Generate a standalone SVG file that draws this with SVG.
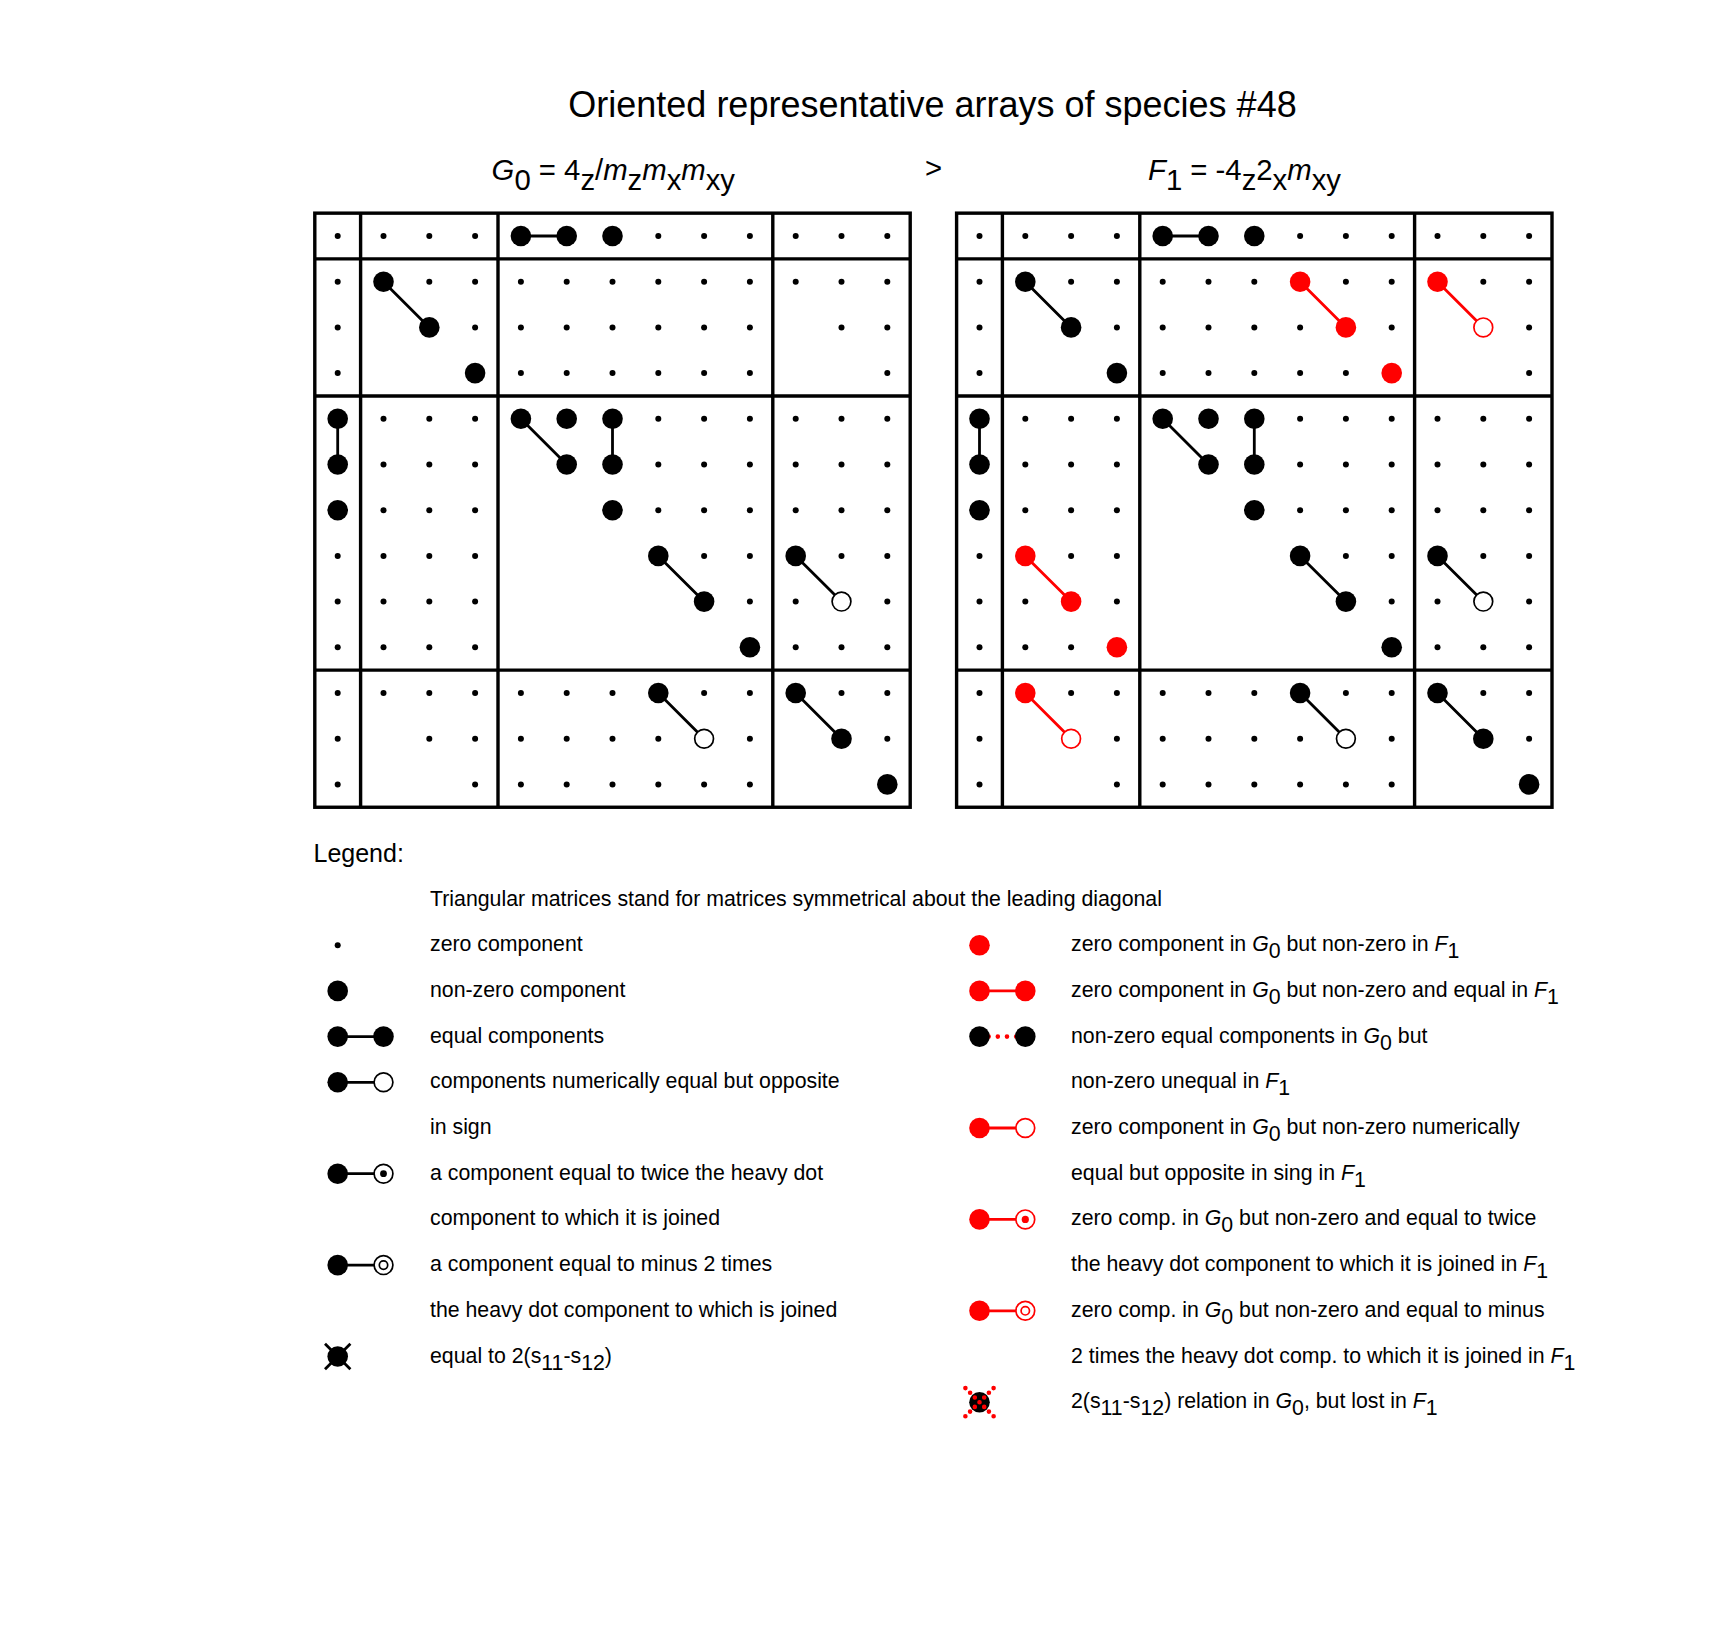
<svg xmlns="http://www.w3.org/2000/svg" xmlns:xlink="http://www.w3.org/1999/xlink" width="1715" height="1626" viewBox="0 0 1715 1626">
<style>
text{font-family:"Liberation Sans",Arial,"DejaVu Sans",sans-serif;fill:#000}
.ttl{font-size:36px}
.hd{font-size:29.3px}
.lg{font-size:25px}
.tx{font-size:21.3px}
.i{font-style:italic}
.fr{fill:none;stroke:#000;stroke-width:3.4}
.cn{fill:none;stroke:#000;stroke-width:2.8}
.cr{fill:none;stroke:#f00;stroke-width:2.8}
.z{fill:#000}
.b{fill:#000}
.rb{fill:#f00}
.o{fill:#fff;stroke:#000;stroke-width:1.7}
.ro{fill:#fff;stroke:#f00;stroke-width:1.7}
.rdot{fill:none;stroke:#f00;stroke-width:4.6;stroke-linecap:round}
</style>
<rect width="1715" height="1626" fill="#fff"/>

<g id="title"><text class="ttl" x="932.5" y="117" text-anchor="middle">Oriented representative arrays of species #48</text></g>

<g id="label-G0"><text class="hd" x="491.6" y="180"><tspan class="i">G</tspan><tspan dy="10">0</tspan><tspan dy="-10"> = 4</tspan><tspan dy="10">z</tspan><tspan dy="-10">/</tspan><tspan class="i">m</tspan><tspan dy="10">z</tspan><tspan dy="-10" class="i">m</tspan><tspan dy="10">x</tspan><tspan dy="-10" class="i">m</tspan><tspan dy="10">xy</tspan></text></g>
<g id="gt"><text class="hd" x="925" y="178">&gt;</text></g>
<g id="label-F1"><text class="hd" x="1148" y="180"><tspan class="i">F</tspan><tspan dy="10">1</tspan><tspan dy="-10"> = -4</tspan><tspan dy="10">z</tspan><tspan dy="-10">2</tspan><tspan dy="10">x</tspan><tspan dy="-10" class="i">m</tspan><tspan dy="10">xy</tspan></text></g>

<!-- Left array G0 -->
<g id="array-G0" transform="translate(337.7,236)">
<g id="G0-frame">
<rect class="fr" x="-22.9" y="-22.85" width="595.4" height="594.1"/>
<path class="fr" d="M22.9,-22.85V571.25M160.3,-22.85V571.25M435.1,-22.85V571.25M-22.9,22.85H572.5M-22.9,159.95H572.5M-22.9,434.15H572.5"/>
</g>
<g id="G0-connectors">
<path class="cn" d="M183.2,0H229M45.8,45.7L91.6,91.4M0,182.8V228.5M183.2,182.8L229,228.5M274.8,182.8V228.5M320.6,319.9L366.4,365.6M458,319.9L503.8,365.6M320.6,457L366.4,502.7M458,457L503.8,502.7"/>
</g>
<g id="G0-zero" class="z">
<g transform="translate(0,0)"><circle cx="0" r="3"/><circle cx="45.8" r="3"/><circle cx="91.6" r="3"/><circle cx="137.4" r="3"/><circle cx="320.6" r="3"/><circle cx="366.4" r="3"/><circle cx="412.2" r="3"/><circle cx="458" r="3"/><circle cx="503.8" r="3"/><circle cx="549.6" r="3"/></g>
<g transform="translate(0,45.7)"><circle cx="0" r="3"/><circle cx="91.6" r="3"/><circle cx="137.4" r="3"/><circle cx="183.2" r="3"/><circle cx="229" r="3"/><circle cx="274.8" r="3"/><circle cx="320.6" r="3"/><circle cx="366.4" r="3"/><circle cx="412.2" r="3"/><circle cx="458" r="3"/><circle cx="503.8" r="3"/><circle cx="549.6" r="3"/></g>
<g transform="translate(0,91.4)"><circle cx="0" r="3"/><circle cx="137.4" r="3"/><circle cx="183.2" r="3"/><circle cx="229" r="3"/><circle cx="274.8" r="3"/><circle cx="320.6" r="3"/><circle cx="366.4" r="3"/><circle cx="412.2" r="3"/><circle cx="503.8" r="3"/><circle cx="549.6" r="3"/></g>
<g transform="translate(0,137.1)"><circle cx="0" r="3"/><circle cx="183.2" r="3"/><circle cx="229" r="3"/><circle cx="274.8" r="3"/><circle cx="320.6" r="3"/><circle cx="366.4" r="3"/><circle cx="412.2" r="3"/><circle cx="549.6" r="3"/></g>
<g transform="translate(0,182.8)"><circle cx="45.8" r="3"/><circle cx="91.6" r="3"/><circle cx="137.4" r="3"/><circle cx="320.6" r="3"/><circle cx="366.4" r="3"/><circle cx="412.2" r="3"/><circle cx="458" r="3"/><circle cx="503.8" r="3"/><circle cx="549.6" r="3"/></g>
<g transform="translate(0,228.5)"><circle cx="45.8" r="3"/><circle cx="91.6" r="3"/><circle cx="137.4" r="3"/><circle cx="320.6" r="3"/><circle cx="366.4" r="3"/><circle cx="412.2" r="3"/><circle cx="458" r="3"/><circle cx="503.8" r="3"/><circle cx="549.6" r="3"/></g>
<g transform="translate(0,274.2)"><circle cx="45.8" r="3"/><circle cx="91.6" r="3"/><circle cx="137.4" r="3"/><circle cx="320.6" r="3"/><circle cx="366.4" r="3"/><circle cx="412.2" r="3"/><circle cx="458" r="3"/><circle cx="503.8" r="3"/><circle cx="549.6" r="3"/></g>
<g transform="translate(0,319.9)"><circle cx="0" r="3"/><circle cx="45.8" r="3"/><circle cx="91.6" r="3"/><circle cx="137.4" r="3"/><circle cx="366.4" r="3"/><circle cx="412.2" r="3"/><circle cx="503.8" r="3"/><circle cx="549.6" r="3"/></g>
<g transform="translate(0,365.6)"><circle cx="0" r="3"/><circle cx="45.8" r="3"/><circle cx="91.6" r="3"/><circle cx="137.4" r="3"/><circle cx="412.2" r="3"/><circle cx="458" r="3"/><circle cx="549.6" r="3"/></g>
<g transform="translate(0,411.3)"><circle cx="0" r="3"/><circle cx="45.8" r="3"/><circle cx="91.6" r="3"/><circle cx="137.4" r="3"/><circle cx="458" r="3"/><circle cx="503.8" r="3"/><circle cx="549.6" r="3"/></g>
<g transform="translate(0,457)"><circle cx="0" r="3"/><circle cx="45.8" r="3"/><circle cx="91.6" r="3"/><circle cx="137.4" r="3"/><circle cx="183.2" r="3"/><circle cx="229" r="3"/><circle cx="274.8" r="3"/><circle cx="366.4" r="3"/><circle cx="412.2" r="3"/><circle cx="503.8" r="3"/><circle cx="549.6" r="3"/></g>
<g transform="translate(0,502.7)"><circle cx="0" r="3"/><circle cx="91.6" r="3"/><circle cx="137.4" r="3"/><circle cx="183.2" r="3"/><circle cx="229" r="3"/><circle cx="274.8" r="3"/><circle cx="320.6" r="3"/><circle cx="412.2" r="3"/><circle cx="549.6" r="3"/></g>
<g transform="translate(0,548.4)"><circle cx="0" r="3"/><circle cx="137.4" r="3"/><circle cx="183.2" r="3"/><circle cx="229" r="3"/><circle cx="274.8" r="3"/><circle cx="320.6" r="3"/><circle cx="366.4" r="3"/><circle cx="412.2" r="3"/></g>
</g>
<g id="G0-nonzero" class="b">
<circle cx="183.2" cy="0" r="10.3"/><circle cx="229" cy="0" r="10.3"/><circle cx="274.8" cy="0" r="10.3"/>
<circle cx="45.8" cy="45.7" r="10.3"/><circle cx="91.6" cy="91.4" r="10.3"/><circle cx="137.4" cy="137.1" r="10.3"/>
<circle cx="0" cy="182.8" r="10.3"/><circle cx="0" cy="228.5" r="10.3"/><circle cx="0" cy="274.2" r="10.3"/>
<circle cx="183.2" cy="182.8" r="10.3"/><circle cx="229" cy="182.8" r="10.3"/><circle cx="274.8" cy="182.8" r="10.3"/>
<circle cx="229" cy="228.5" r="10.3"/><circle cx="274.8" cy="228.5" r="10.3"/><circle cx="274.8" cy="274.2" r="10.3"/>
<circle cx="320.6" cy="319.9" r="10.3"/><circle cx="366.4" cy="365.6" r="10.3"/><circle cx="412.2" cy="411.3" r="10.3"/>
<circle cx="458" cy="319.9" r="10.3"/>
<circle cx="320.6" cy="457" r="10.3"/><circle cx="458" cy="457" r="10.3"/><circle cx="503.8" cy="502.7" r="10.3"/><circle cx="549.6" cy="548.4" r="10.3"/>
</g>
<g id="G0-opposite">
<circle class="o" cx="503.8" cy="365.6" r="9.4"/><circle class="o" cx="366.4" cy="502.7" r="9.4"/>
</g>
</g>

<!-- Right array F1 -->
<g id="array-F1" transform="translate(979.5,236)">
<g id="F1-frame">
<rect class="fr" x="-22.9" y="-22.85" width="595.4" height="594.1"/>
<path class="fr" d="M22.9,-22.85V571.25M160.3,-22.85V571.25M435.1,-22.85V571.25M-22.9,22.85H572.5M-22.9,159.95H572.5M-22.9,434.15H572.5"/>
</g>
<g id="F1-connectors">
<path class="cn" d="M183.2,0H229M45.8,45.7L91.6,91.4M0,182.8V228.5M183.2,182.8L229,228.5M274.8,182.8V228.5M320.6,319.9L366.4,365.6M458,319.9L503.8,365.6M320.6,457L366.4,502.7M458,457L503.8,502.7"/>
<path class="cr" d="M320.6,45.7L366.4,91.4M458,45.7L503.8,91.4M45.8,319.9L91.6,365.6M45.8,457L91.6,502.7"/>
</g>
<g id="F1-zero" class="z">
<g transform="translate(0,0)"><circle cx="0" r="3"/><circle cx="45.8" r="3"/><circle cx="91.6" r="3"/><circle cx="137.4" r="3"/><circle cx="320.6" r="3"/><circle cx="366.4" r="3"/><circle cx="412.2" r="3"/><circle cx="458" r="3"/><circle cx="503.8" r="3"/><circle cx="549.6" r="3"/></g>
<g transform="translate(0,45.7)"><circle cx="0" r="3"/><circle cx="91.6" r="3"/><circle cx="137.4" r="3"/><circle cx="183.2" r="3"/><circle cx="229" r="3"/><circle cx="274.8" r="3"/><circle cx="366.4" r="3"/><circle cx="412.2" r="3"/><circle cx="503.8" r="3"/><circle cx="549.6" r="3"/></g>
<g transform="translate(0,91.4)"><circle cx="0" r="3"/><circle cx="137.4" r="3"/><circle cx="183.2" r="3"/><circle cx="229" r="3"/><circle cx="274.8" r="3"/><circle cx="320.6" r="3"/><circle cx="412.2" r="3"/><circle cx="549.6" r="3"/></g>
<g transform="translate(0,137.1)"><circle cx="0" r="3"/><circle cx="183.2" r="3"/><circle cx="229" r="3"/><circle cx="274.8" r="3"/><circle cx="320.6" r="3"/><circle cx="366.4" r="3"/><circle cx="549.6" r="3"/></g>
<g transform="translate(0,182.8)"><circle cx="45.8" r="3"/><circle cx="91.6" r="3"/><circle cx="137.4" r="3"/><circle cx="320.6" r="3"/><circle cx="366.4" r="3"/><circle cx="412.2" r="3"/><circle cx="458" r="3"/><circle cx="503.8" r="3"/><circle cx="549.6" r="3"/></g>
<g transform="translate(0,228.5)"><circle cx="45.8" r="3"/><circle cx="91.6" r="3"/><circle cx="137.4" r="3"/><circle cx="320.6" r="3"/><circle cx="366.4" r="3"/><circle cx="412.2" r="3"/><circle cx="458" r="3"/><circle cx="503.8" r="3"/><circle cx="549.6" r="3"/></g>
<g transform="translate(0,274.2)"><circle cx="45.8" r="3"/><circle cx="91.6" r="3"/><circle cx="137.4" r="3"/><circle cx="320.6" r="3"/><circle cx="366.4" r="3"/><circle cx="412.2" r="3"/><circle cx="458" r="3"/><circle cx="503.8" r="3"/><circle cx="549.6" r="3"/></g>
<g transform="translate(0,319.9)"><circle cx="0" r="3"/><circle cx="91.6" r="3"/><circle cx="137.4" r="3"/><circle cx="366.4" r="3"/><circle cx="412.2" r="3"/><circle cx="503.8" r="3"/><circle cx="549.6" r="3"/></g>
<g transform="translate(0,365.6)"><circle cx="0" r="3"/><circle cx="45.8" r="3"/><circle cx="137.4" r="3"/><circle cx="412.2" r="3"/><circle cx="458" r="3"/><circle cx="549.6" r="3"/></g>
<g transform="translate(0,411.3)"><circle cx="0" r="3"/><circle cx="45.8" r="3"/><circle cx="91.6" r="3"/><circle cx="458" r="3"/><circle cx="503.8" r="3"/><circle cx="549.6" r="3"/></g>
<g transform="translate(0,457)"><circle cx="0" r="3"/><circle cx="91.6" r="3"/><circle cx="137.4" r="3"/><circle cx="183.2" r="3"/><circle cx="229" r="3"/><circle cx="274.8" r="3"/><circle cx="366.4" r="3"/><circle cx="412.2" r="3"/><circle cx="503.8" r="3"/><circle cx="549.6" r="3"/></g>
<g transform="translate(0,502.7)"><circle cx="0" r="3"/><circle cx="137.4" r="3"/><circle cx="183.2" r="3"/><circle cx="229" r="3"/><circle cx="274.8" r="3"/><circle cx="320.6" r="3"/><circle cx="412.2" r="3"/><circle cx="549.6" r="3"/></g>
<g transform="translate(0,548.4)"><circle cx="0" r="3"/><circle cx="137.4" r="3"/><circle cx="183.2" r="3"/><circle cx="229" r="3"/><circle cx="274.8" r="3"/><circle cx="320.6" r="3"/><circle cx="366.4" r="3"/><circle cx="412.2" r="3"/></g>
</g>
<g id="F1-nonzero" class="b">
<circle cx="183.2" cy="0" r="10.3"/><circle cx="229" cy="0" r="10.3"/><circle cx="274.8" cy="0" r="10.3"/>
<circle cx="45.8" cy="45.7" r="10.3"/><circle cx="91.6" cy="91.4" r="10.3"/><circle cx="137.4" cy="137.1" r="10.3"/>
<circle cx="0" cy="182.8" r="10.3"/><circle cx="0" cy="228.5" r="10.3"/><circle cx="0" cy="274.2" r="10.3"/>
<circle cx="183.2" cy="182.8" r="10.3"/><circle cx="229" cy="182.8" r="10.3"/><circle cx="274.8" cy="182.8" r="10.3"/>
<circle cx="229" cy="228.5" r="10.3"/><circle cx="274.8" cy="228.5" r="10.3"/><circle cx="274.8" cy="274.2" r="10.3"/>
<circle cx="320.6" cy="319.9" r="10.3"/><circle cx="366.4" cy="365.6" r="10.3"/><circle cx="412.2" cy="411.3" r="10.3"/>
<circle cx="458" cy="319.9" r="10.3"/>
<circle cx="320.6" cy="457" r="10.3"/><circle cx="458" cy="457" r="10.3"/><circle cx="503.8" cy="502.7" r="10.3"/><circle cx="549.6" cy="548.4" r="10.3"/>
</g>
<g id="F1-new" class="rb">
<circle cx="320.6" cy="45.7" r="10.3"/><circle cx="366.4" cy="91.4" r="10.3"/><circle cx="412.2" cy="137.1" r="10.3"/>
<circle cx="458" cy="45.7" r="10.3"/>
<circle cx="45.8" cy="319.9" r="10.3"/><circle cx="91.6" cy="365.6" r="10.3"/><circle cx="137.4" cy="411.3" r="10.3"/>
<circle cx="45.8" cy="457" r="10.3"/>
</g>
<g id="F1-opposite">
<circle class="o" cx="503.8" cy="365.6" r="9.4"/><circle class="o" cx="366.4" cy="502.7" r="9.4"/>
<circle class="ro" cx="503.8" cy="91.4" r="9.4"/><circle class="ro" cx="91.6" cy="502.7" r="9.4"/>
</g>
</g>

<!-- Legend -->
<g id="legend">
<g id="legend-title"><text class="lg" x="313.5" y="862">Legend:</text></g>
<g id="leg-tri"><text class="tx" x="430" y="905.5">Triangular matrices stand for matrices symmetrical about the leading diagonal</text></g>

<g id="leg-zero"><circle class="z" cx="337.7" cy="945.2" r="3"/><text class="tx" x="430" y="951.2">zero component</text></g>
<g id="leg-nonzero"><circle class="b" cx="337.7" cy="990.9" r="10.3"/><text class="tx" x="430" y="996.9">non-zero component</text></g>
<g id="leg-equal"><path class="cn" d="M337.7,1036.6H383.5"/><circle class="b" cx="337.7" cy="1036.6" r="10.3"/><circle class="b" cx="383.5" cy="1036.6" r="10.3"/><text class="tx" x="430" y="1042.6">equal components</text></g>
<g id="leg-opposite"><path class="cn" d="M337.7,1082.3H383.5"/><circle class="b" cx="337.7" cy="1082.3" r="10.3"/><circle class="o" cx="383.5" cy="1082.3" r="9.4"/><text class="tx" x="430" y="1088.3">components numerically equal but opposite</text><text class="tx" x="430" y="1134">in sign</text></g>
<g id="leg-twice"><path class="cn" d="M337.7,1173.7H383.5"/><circle class="b" cx="337.7" cy="1173.7" r="10.3"/><circle class="o" cx="383.5" cy="1173.7" r="9.4"/><circle class="b" cx="383.5" cy="1173.7" r="3.4"/><text class="tx" x="430" y="1179.7">a component equal to twice the heavy dot</text><text class="tx" x="430" y="1225.4">component to which it is joined</text></g>
<g id="leg-minus2"><path class="cn" d="M337.7,1265.1H383.5"/><circle class="b" cx="337.7" cy="1265.1" r="10.3"/><circle class="o" cx="383.5" cy="1265.1" r="9.4"/><circle class="o" cx="383.5" cy="1265.1" r="4.2"/><text class="tx" x="430" y="1271.1">a component equal to minus 2 times</text><text class="tx" x="430" y="1316.8">the heavy dot component to which is joined</text></g>
<g id="leg-s11s12"><circle class="b" cx="337.7" cy="1356.5" r="10.3"/><path class="cn" stroke-width="3.2" d="M325,1343.8L350.4,1369.2M350.4,1343.8L325,1369.2"/><text class="tx" x="430" y="1362.5">equal to 2(s<tspan dy="7">11</tspan><tspan dy="-7">-s</tspan><tspan dy="7">12</tspan><tspan dy="-7">)</tspan></text></g>

<g id="leg-r-zero"><circle class="rb" cx="979.5" cy="945.2" r="10.3"/><text class="tx" x="1071" y="951.2">zero component in <tspan class="i">G</tspan><tspan dy="7">0</tspan><tspan dy="-7"> but non-zero in </tspan><tspan class="i">F</tspan><tspan dy="7">1</tspan></text></g>
<g id="leg-r-equal"><path class="cr" d="M979.5,990.9H1025.3"/><circle class="rb" cx="979.5" cy="990.9" r="10.3"/><circle class="rb" cx="1025.3" cy="990.9" r="10.3"/><text class="tx" x="1071" y="996.9">zero component in <tspan class="i">G</tspan><tspan dy="7">0</tspan><tspan dy="-7"> but non-zero and equal in </tspan><tspan class="i">F</tspan><tspan dy="7">1</tspan></text></g>
<g id="leg-r-unequal"><path class="rdot" stroke-dasharray="0 9.16" d="M979.5,1036.6H1025.4"/><circle class="b" cx="979.5" cy="1036.6" r="10.3"/><circle class="b" cx="1025.3" cy="1036.6" r="10.3"/><text class="tx" x="1071" y="1042.6">non-zero equal components in <tspan class="i">G</tspan><tspan dy="7">0</tspan><tspan dy="-7"> but</tspan></text><text class="tx" x="1071" y="1088.3">non-zero unequal in <tspan class="i">F</tspan><tspan dy="7">1</tspan></text></g>
<g id="leg-r-opposite"><path class="cr" d="M979.5,1128H1025.3"/><circle class="rb" cx="979.5" cy="1128" r="10.3"/><circle class="ro" cx="1025.3" cy="1128" r="9.4"/><text class="tx" x="1071" y="1134">zero component in <tspan class="i">G</tspan><tspan dy="7">0</tspan><tspan dy="-7"> but non-zero numerically</tspan></text><text class="tx" x="1071" y="1179.7">equal but opposite in sing in <tspan class="i">F</tspan><tspan dy="7">1</tspan></text></g>
<g id="leg-r-twice"><path class="cr" d="M979.5,1219.4H1025.3"/><circle class="rb" cx="979.5" cy="1219.4" r="10.3"/><circle class="ro" cx="1025.3" cy="1219.4" r="9.4"/><circle class="rb" cx="1025.3" cy="1219.4" r="3.6"/><text class="tx" x="1071" y="1225.4">zero comp. in <tspan class="i">G</tspan><tspan dy="7">0</tspan><tspan dy="-7"> but non-zero and equal to twice</tspan></text><text class="tx" x="1071" y="1271.1">the heavy dot component to which it is joined in <tspan class="i">F</tspan><tspan dy="7">1</tspan></text></g>
<g id="leg-r-minus2"><path class="cr" d="M979.5,1310.8H1025.3"/><circle class="rb" cx="979.5" cy="1310.8" r="10.3"/><circle class="ro" cx="1025.3" cy="1310.8" r="9.4"/><circle class="ro" cx="1025.3" cy="1310.8" r="4.2"/><text class="tx" x="1071" y="1316.8">zero comp. in <tspan class="i">G</tspan><tspan dy="7">0</tspan><tspan dy="-7"> but non-zero and equal to minus</tspan></text><text class="tx" x="1071" y="1362.5">2 times the heavy dot comp. to which it is joined in <tspan class="i">F</tspan><tspan dy="7">1</tspan></text></g>
<g id="leg-r-lost"><circle class="b" cx="979.5" cy="1402.2" r="10.3"/><path class="rdot" stroke-dasharray="0 6.65" d="M965.4,1388.1L993.7,1416.4M993.6,1388.1L965.3,1416.4"/><text class="tx" x="1071" y="1408.2">2(s<tspan dy="7">11</tspan><tspan dy="-7">-s</tspan><tspan dy="7">12</tspan><tspan dy="-7">) relation in </tspan><tspan class="i">G</tspan><tspan dy="7">0</tspan><tspan dy="-7">, but lost in </tspan><tspan class="i">F</tspan><tspan dy="7">1</tspan></text></g>
</g>
</svg>
